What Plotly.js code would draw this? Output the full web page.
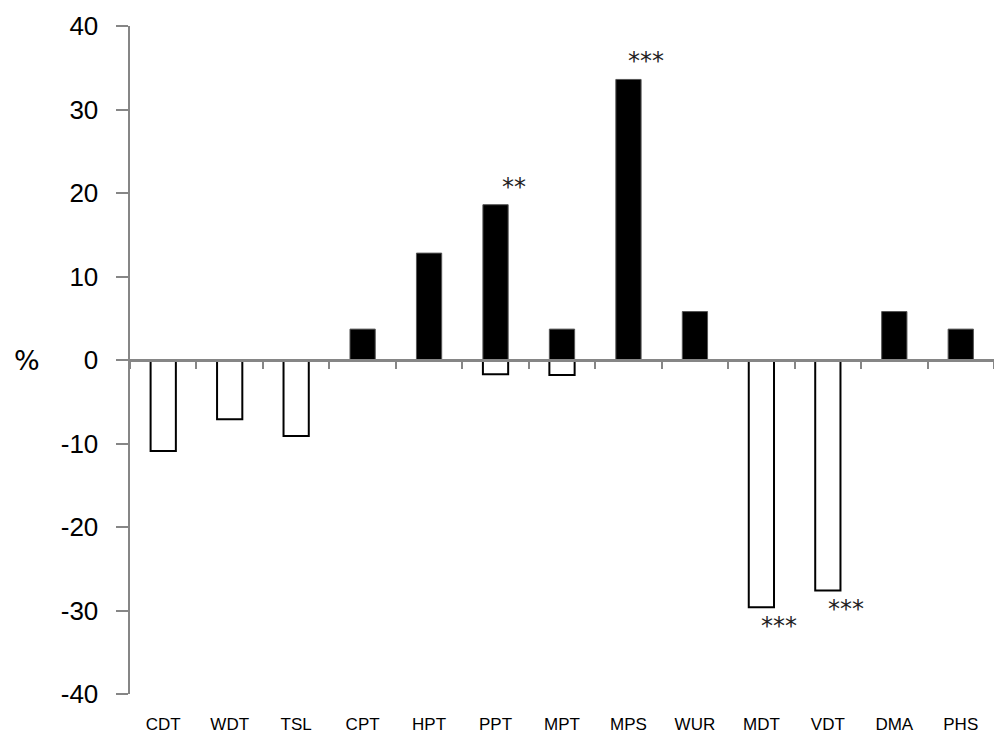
<!DOCTYPE html>
<html>
<head>
<meta charset="utf-8">
<script src="https://cdn.plot.ly/plotly-3.0.1.min.js"></script>
<style>html,body{margin:0;padding:0;background:#fff;}#chart{width:994px;height:743px;}</style>
</head>
<body>
<div id="chart"></div>
<script>
const categories = ['CDT','WDT','TSL','CPT','HPT','PPT','MPT','MPS','WUR','MDT','VDT','DMA','PHS'];
const increaseValues = [null, null, null, 3.7, 12.8, 18.6, 3.7, 33.6, 5.8, null, null, 5.8, 3.7];
const decreaseValues = [-10.9, -7.1, -9.1, null, null, -1.7, -1.8, null, null, -29.6, -27.6, null, null];
const sigCategories = ['PPT','MPS','MDT','VDT'];
const sigLabels = ['**','***','***','***'];
const yTicks = [-40,-30,-20,-10,0,10,20,30,40];

const axisGray = '#868686';
const barWidth = 0.38;

const traces = [
  {
    type: 'bar', x: categories, y: increaseValues, xaxis: 'x', yaxis: 'y',
    width: barWidth, marker: {color: '#000000', line: {color: '#555555', width: 1}},
    hoverinfo: 'x+y', showlegend: false
  },
  {
    type: 'bar', x: categories, y: decreaseValues, xaxis: 'x2', yaxis: 'y',
    width: barWidth, marker: {color: '#ffffff', line: {color: '#000000', width: 2}},
    hoverinfo: 'x+y', showlegend: false
  }
];

const annotations = sigCategories.map((c, i) => {
  const idx = categories.indexOf(c);
  const pos = increaseValues[idx];
  const neg = decreaseValues[idx];
  const useNeg = (pos === null || pos === undefined) || (neg !== null && Math.abs(neg) > Math.abs(pos));
  const v = useNeg ? neg : pos;
  return {
    x: c, y: v, xref: 'x', yref: 'y', text: sigLabels[i], showarrow: false,
    xshift: 18, yshift: useNeg ? -19 : 18,
    font: {family: 'DejaVu Sans', size: 24, color: '#222'}
  };
});
annotations.push({
  xref: 'paper', yref: 'y', x: 0, y: 0, xanchor: 'right', xshift: -88,
  text: '%', showarrow: false, font: {family: 'DejaVu Sans', size: 27, color: '#000'}
});

const layout = {
  width: 994, height: 743,
  margin: {l: 130, r: 0, t: 26, b: 49, pad: 0},
  paper_bgcolor: '#ffffff', plot_bgcolor: '#ffffff',
  barmode: 'overlay',
  showlegend: false,
  font: {family: 'Liberation Sans', color: '#000'},
  xaxis: {
    type: 'category', categoryorder: 'array', categoryarray: categories,
    range: [-0.5, 12.5], showline: false, showgrid: false, zeroline: false,
    ticks: '', ticklabelstandoff: 18,
    tickfont: {family: 'Liberation Sans Narrow, Liberation Sans', size: 17, color: '#000'}
  },
  xaxis2: {
    type: 'category', categoryorder: 'array', categoryarray: categories,
    overlaying: 'x', anchor: 'free', position: 0.5,
    range: [-0.5, 12.5], showline: true, linecolor: axisGray, linewidth: 2.5,
    showgrid: false, zeroline: false, showticklabels: false,
    ticks: 'outside', tickson: 'boundaries', ticklen: 7, tickwidth: 2, tickcolor: axisGray
  },
  yaxis: {
    range: [-40, 40], tickvals: yTicks, ticktext: yTicks.map(String),
    showline: true, linecolor: axisGray, linewidth: 2.5,
    showgrid: false, zeroline: false,
    ticks: 'outside', ticklen: 12, tickwidth: 2, tickcolor: axisGray,
    ticklabelstandoff: 12,
    tickfont: {family: 'Liberation Sans', size: 26, color: '#000'}
  },
  annotations: annotations
};

Plotly.newPlot('chart', traces, layout, {staticPlot: true, displayModeBar: false});
</script>
</body>
</html>
